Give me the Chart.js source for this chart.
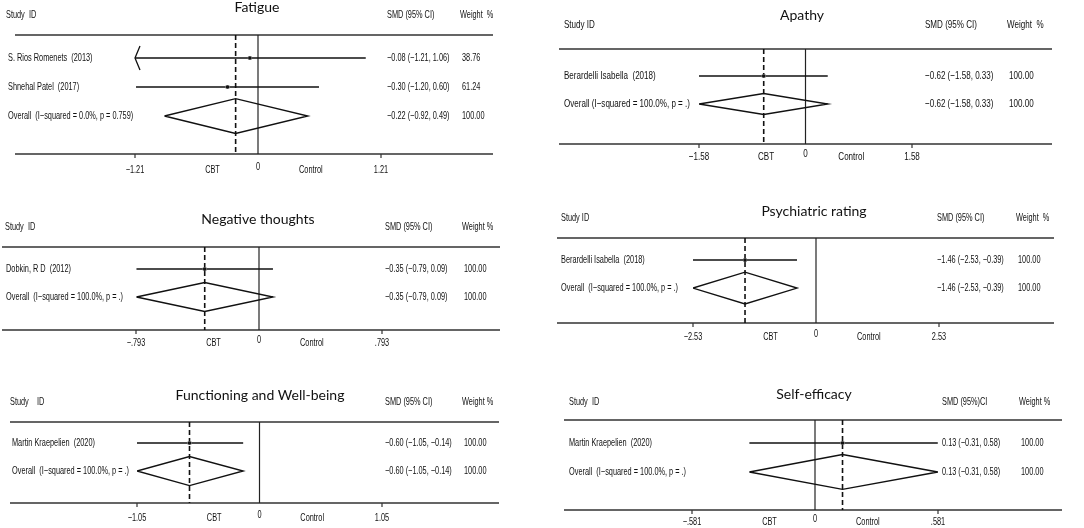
<!DOCTYPE html>
<html>
<head>
<meta charset="utf-8">
<script src="https://cdn.jsdelivr.net/npm/chart.js@4/dist/chart.umd.min.js"></script>
<style>
  html, body { margin: 0; padding: 0; background: #fff; }
  #wrap { position: relative; width: 1084px; height: 528px; overflow: hidden; }
  #wrap canvas { position: absolute; }
</style>
</head>
<body>
<div id="wrap"></div>
<script>
// forest plot data, one entry per outcome
const outcomes = ['Fatigue', 'Apathy', 'Negative thoughts', 'Psychiatric rating', 'Functioning and Well-being', 'Self-efficacy'];
const studies = [
  ['S. Rios Romenets  (2013)', 'Shnehal Patel  (2017)', 'Overall  (I\u2212squared = 0.0%, p = 0.759)'],
  ['Berardelli Isabella  (2018)', 'Overall (I\u2212squared = 100.0%, p = .)'],
  ['Dobkin, R D  (2012)', 'Overall  (I\u2212squared = 100.0%, p = .)'],
  ['Berardelli Isabella  (2018)', 'Overall  (I\u2212squared = 100.0%, p = .)'],
  ['Martin Kraepelien  (2020)', 'Overall  (I\u2212squared = 100.0%, p = .)'],
  ['Martin Kraepelien  (2020)', 'Overall  (I\u2212squared = 100.0%, p = .)']
];
const smd = [[-0.08, -0.30, -0.22], [-0.62, -0.62], [-0.35, -0.35], [-1.46, -1.46], [-0.60, -0.60], [0.13, 0.13]];
const ciLow = [[-1.21, -1.20, -0.92], [-1.58, -1.58], [-0.79, -0.79], [-2.53, -2.53], [-1.05, -1.05], [-0.31, -0.31]];
const ciHigh = [[1.06, 0.60, 0.49], [0.33, 0.33], [0.09, 0.09], [-0.39, -0.39], [-0.14, -0.14], [0.58, 0.58]];
// intervals that run past the left end of the axis (drawn with an arrow)
const offScaleLeft = [[true, false], [false], [false], [false], [false], [false]];
const weights = [['38.76', '61.24', '100.00'], ['100.00', '100.00'], ['100.00', '100.00'], ['100.00', '100.00'], ['100.00', '100.00'], ['100.00', '100.00']];
const axisLimits = [1.21, 1.58, 0.793, 2.53, 1.05, 0.581];
const tickLabels = [
  ['\u22121.21', '0', '1.21'], ['\u22121.58', '0', '1.58'], ['\u2212.793', '0', '.793'],
  ['\u22122.53', '0', '2.53'], ['\u22121.05', '0', '1.05'], ['\u2212.581', '0', '.581']
];
const studyHeaders = ['Study  ID', 'Study ID', 'Study  ID', 'Study ID', 'Study    ID', 'Study  ID'];
const smdHeaders = ['SMD (95% CI)', 'SMD (95% CI)', 'SMD (95% CI)', 'SMD (95% CI)', 'SMD (95% CI)', 'SMD (95%)CI'];
const weightHeaders = ['Weight  %', 'Weight  %', 'Weight %', 'Weight  %', 'Weight %', 'Weight %'];

// page layout of each panel (absolute pixels)
const layouts = [
  { left: 0, top: 0, w: 540, h: 180, lineL: 15, lineR: 493, plotL: 135, plotR: 381, plotT: 35, plotB: 154, yMin: 0.207, yMax: 4.31,
    titleX: 257, titleY: 7, headY: 15, studyX: 6, rowX: 8, smdX: 387, wtX: 460, tickY: 170, diamondH: 0.6, fontPx: 10.5 },
  { left: 544, top: 0, w: 540, h: 180, lineL: 559, lineR: 1052, plotL: 699, plotR: 912, plotT: 49, plotB: 144, yMin: 0.036, yMax: 3.43,
    titleX: 802, titleY: 15, headY: 25, studyX: 564, rowX: 564, smdX: 925, wtX: 1007, tickY: 157, diamondH: 0.375, fontPx: 11.5 },
  { left: 0, top: 180, w: 540, h: 175, lineL: 2, lineR: 500, plotL: 136, plotR: 382, plotT: 247, plotB: 330, yMin: 0.21, yMax: 3.18,
    titleX: 258, titleY: 219, headY: 227, studyX: 5, rowX: 6, smdX: 385, wtX: 462, tickY: 343, diamondH: 0.52, fontPx: 10.5 },
  { left: 544, top: 180, w: 540, h: 175, lineL: 557, lineR: 1054, plotL: 693, plotR: 939, plotT: 238, plotB: 323, yMin: 0.21, yMax: 3.25,
    titleX: 814, titleY: 211, headY: 218, studyX: 561, rowX: 561, smdX: 937, wtX: 1016, tickY: 337, diamondH: 0.57, fontPx: 10.5 },
  { left: 0, top: 355, w: 540, h: 173, lineL: 10, lineR: 499, plotL: 137, plotR: 382, plotT: 422, plotB: 503, yMin: 0.25, yMax: 3.14,
    titleX: 260, titleY: 395, headY: 402, studyX: 10, rowX: 12, smdX: 385, wtX: 462, tickY: 518, diamondH: 0.52, fontPx: 10.5 },
  { left: 544, top: 355, w: 540, h: 173, lineL: 564, lineR: 1062, plotL: 692, plotR: 938, plotT: 420, plotB: 510, yMin: 0.21, yMax: 3.31,
    titleX: 814, titleY: 394, headY: 402, studyX: 569, rowX: 569, smdX: 942, wtX: 1019, tickY: 522, diamondH: 0.6, fontPx: 10.5 }
];

const SMALL = "'Liberation Sans', Arial, sans-serif";
const TITLE = "Lato, 'Noto Sans', sans-serif";
const INK = '#111';
const NARROW = 0.7; // small labels in the original are set in a condensed face

const fmt = v => (v < 0 ? '\u2212' : '') + Math.abs(v).toFixed(2);

// draw condensed text (real text, squeezed horizontally)
function narrowText(ctx, str, x, y, align) {
  ctx.save();
  ctx.translate(x, y);
  ctx.scale(NARROW, 1);
  ctx.textAlign = align || 'left';
  ctx.fillText(str, 0, 0);
  ctx.restore();
}

const wrap = document.getElementById('wrap');

outcomes.forEach((title, p) => {
  const L = layouts[p];
  const lim = axisLimits[p];
  const n = studies[p].length;
  const overall = n - 1;

  const canvas = document.createElement('canvas');
  canvas.width = L.w;
  canvas.height = L.h;
  canvas.style.left = L.left + 'px';
  canvas.style.top = L.top + 'px';
  wrap.appendChild(canvas);

  const datasets = [];
  // confidence intervals of the single studies
  for (let i = 0; i < overall; i++) {
    datasets.push({
      data: [{ x: Math.max(ciLow[p][i], -lim), y: i + 1 }, { x: Math.min(ciHigh[p][i], lim), y: i + 1 }],
      showLine: true, borderColor: INK, borderWidth: 1.5, pointRadius: 0, order: 3
    });
  }
  // study weight boxes and point estimates
  const pts = smd[p].slice(0, overall).map((v, i) => ({ x: v, y: i + 1 }));
  datasets.push({ data: pts, pointStyle: 'rect', pointRadius: 2.8, backgroundColor: '#b5b5b5', borderWidth: 0, order: 2 });
  datasets.push({ data: pts, pointStyle: 'circle', pointRadius: 1.8, backgroundColor: INK, borderWidth: 0, order: 1 });
  // pooled estimate diamond
  const r = overall + 1, d = L.diamondH;
  datasets.push({
    data: [
      { x: ciLow[p][overall], y: r }, { x: smd[p][overall], y: r - d }, { x: ciHigh[p][overall], y: r },
      { x: smd[p][overall], y: r + d }, { x: ciLow[p][overall], y: r }
    ],
    showLine: true, fill: false, tension: 0, borderColor: INK, borderWidth: 1.4, pointRadius: 0, order: 0
  });

  const forestPlugin = {
    id: 'forest' + p,
    beforeDatasetsDraw(chart) {
      const { ctx, chartArea: a, scales: { x } } = chart;
      const ox = L.left;
      ctx.save();
      ctx.strokeStyle = '#333';
      ctx.lineWidth = 1.5;
      ctx.beginPath();
      ctx.moveTo(L.lineL - ox, a.top); ctx.lineTo(L.lineR - ox, a.top);
      ctx.moveTo(L.lineL - ox, a.bottom); ctx.lineTo(L.lineR - ox, a.bottom);
      ctx.stroke();
      // ticks at the axis limits
      ctx.lineWidth = 1.2;
      ctx.beginPath();
      [-lim, lim].forEach(v => {
        const px = x.getPixelForValue(v);
        ctx.moveTo(px, a.bottom); ctx.lineTo(px, a.bottom + 4);
      });
      ctx.stroke();
      // line of no effect
      const z = x.getPixelForValue(0);
      ctx.strokeStyle = '#222';
      ctx.lineWidth = 1.2;
      ctx.beginPath();
      ctx.moveTo(z, a.top); ctx.lineTo(z, a.bottom);
      ctx.stroke();
      // dashed line at pooled estimate
      const e = x.getPixelForValue(smd[p][overall]);
      ctx.setLineDash([5, 3]);
      ctx.lineWidth = 1.6;
      ctx.strokeStyle = INK;
      ctx.beginPath();
      ctx.moveTo(e, a.top); ctx.lineTo(e, a.bottom);
      ctx.stroke();
      ctx.restore();
    },
    afterDraw(chart) {
      const { ctx, scales: { x, y } } = chart;
      const ox = L.left, oy = L.top;
      ctx.save();
      ctx.fillStyle = INK;
      ctx.textBaseline = 'middle';

      ctx.font = '14px ' + TITLE;
      ctx.textAlign = 'center';
      ctx.fillText(title, L.titleX - ox, L.titleY - oy);

      ctx.font = L.fontPx + 'px ' + SMALL;
      narrowText(ctx, studyHeaders[p], L.studyX - ox, L.headY - oy);
      narrowText(ctx, smdHeaders[p], L.smdX - ox, L.headY - oy);
      narrowText(ctx, weightHeaders[p], L.wtX - ox, L.headY - oy);

      for (let i = 0; i < n; i++) {
        const py = y.getPixelForValue(i + 1);
        narrowText(ctx, studies[p][i], L.rowX - ox, py);
        narrowText(ctx, fmt(smd[p][i]) + ' (' + fmt(ciLow[p][i]) + ', ' + fmt(ciHigh[p][i]) + ')', L.smdX - ox, py);
        narrowText(ctx, weights[p][i], L.wtX + 2 - ox, py);
      }

      // arrow where an interval runs past the axis
      ctx.strokeStyle = INK;
      ctx.lineWidth = 1.3;
      for (let i = 0; i < overall; i++) {
        if (offScaleLeft[p][i]) {
          const py = y.getPixelForValue(i + 1);
          const px = x.getPixelForValue(-lim);
          ctx.beginPath();
          ctx.moveTo(px + 5, py - 12); ctx.lineTo(px, py); ctx.lineTo(px + 5, py + 12);
          ctx.stroke();
        }
      }

      // axis labels
      [-lim, 0, lim].forEach((v, k) => {
        narrowText(ctx, tickLabels[p][k], x.getPixelForValue(v), L.tickY - oy - (v === 0 ? 3 : 0), 'center');
      });
      narrowText(ctx, 'CBT', x.getPixelForValue(-0.37 * lim), L.tickY - oy, 'center');
      narrowText(ctx, 'Control', x.getPixelForValue(0.43 * lim), L.tickY - oy, 'center');
      ctx.restore();
    }
  };

  new Chart(canvas, {
    type: 'scatter',
    data: { datasets },
    options: {
      responsive: false,
      animation: false,
      events: [],
      layout: {
        padding: { left: L.plotL - L.left, right: L.left + L.w - L.plotR, top: L.plotT - L.top, bottom: L.top + L.h - L.plotB }
      },
      scales: {
        x: { type: 'linear', min: -lim, max: lim, display: false },
        y: { type: 'linear', min: L.yMin, max: L.yMax, reverse: true, display: false }
      },
      plugins: { legend: { display: false }, tooltip: { enabled: false } }
    },
    plugins: [forestPlugin]
  });
});
</script>
</body>
</html>
